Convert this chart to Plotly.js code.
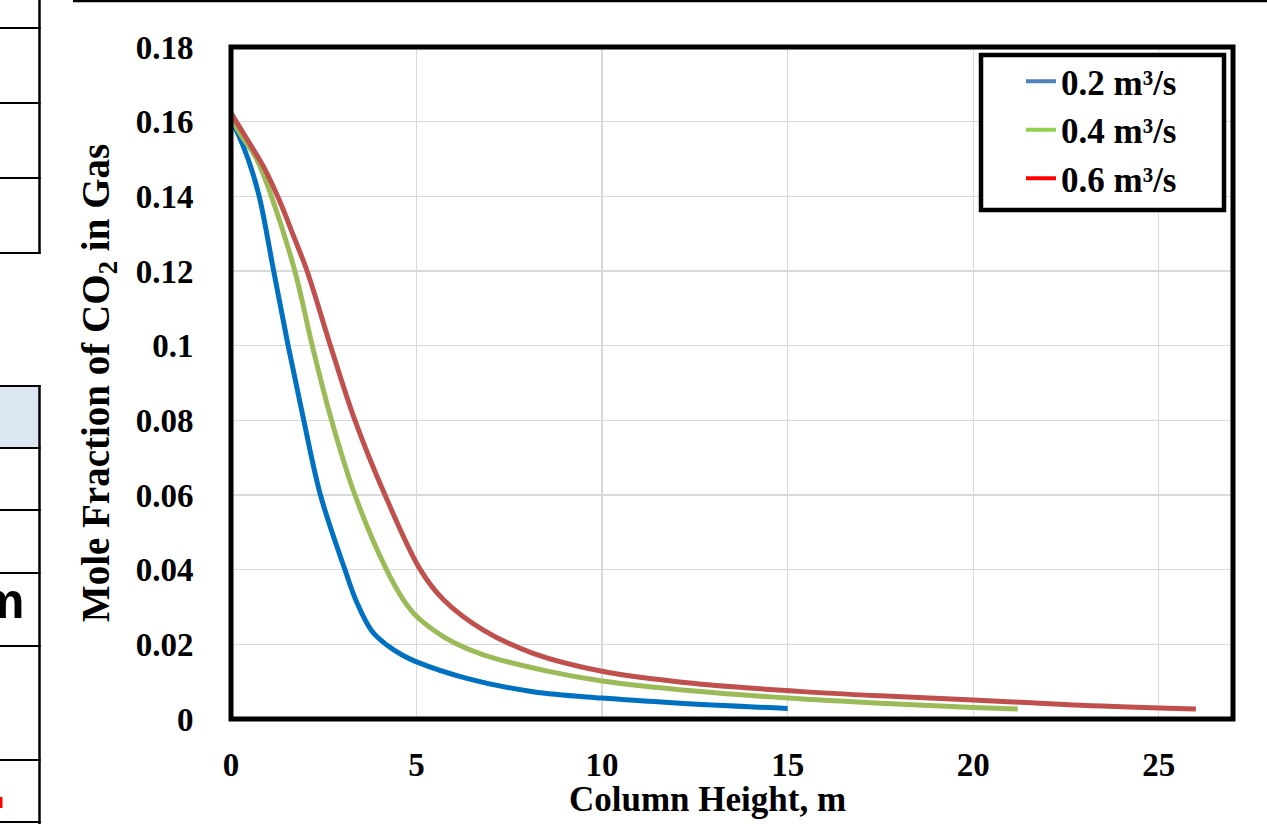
<!DOCTYPE html>
<html>
<head>
<meta charset="utf-8">
<script src="https://cdn.plot.ly/plotly-3.0.1.min.js"></script>
<style>
  html, body { margin: 0; padding: 0; background: #fff; }
  #chart { width: 1267px; height: 824px; }
</style>
</head>
<body>
<div id="chart"></div>
<script>
// ---- data ----
const seriesNames = ['0.2 m³/s', '0.4 m³/s', '0.6 m³/s'];

const height02 = [0, 0.2, 0.46, 0.76, 1.15, 1.54, 1.96, 2.41, 3.07, 3.4, 3.8, 4.2, 4.6, 5.0, 6.35, 8.14, 10, 12, 15];
const co2_02   = [0.1605, 0.1565, 0.150, 0.140, 0.120, 0.100, 0.080, 0.060, 0.040, 0.031, 0.0235, 0.0198, 0.0172, 0.0153, 0.0109, 0.0073, 0.0056, 0.0043, 0.0028];

const height04 = [0, 0.3, 0.69, 1.09, 1.72, 2.19, 2.71, 3.34, 4.19, 4.64, 5.0, 5.5, 6.0, 6.8, 8.59, 10, 12.5, 15, 17.5, 20, 21.2];
const co2_04   = [0.161, 0.156, 0.150, 0.140, 0.120, 0.100, 0.080, 0.060, 0.040, 0.032, 0.0275, 0.0235, 0.0205, 0.0172, 0.0127, 0.0102, 0.0075, 0.0056, 0.0042, 0.0031, 0.0027];

const height06 = [0, 0.45, 0.9, 1.3, 1.7, 2.05, 2.68, 3.34, 4.15, 5.1, 5.72, 6.8, 8.14, 10, 12.5, 15.3, 17.5, 20, 22.9, 26.0];
const co2_06   = [0.1623, 0.155, 0.1475, 0.139, 0.129, 0.120, 0.100, 0.080, 0.060, 0.040, 0.032, 0.0238, 0.0176, 0.0128, 0.0095, 0.0074, 0.0062, 0.0051, 0.0037, 0.0027];

const xTickVals = [0, 5, 10, 15, 20, 25];
const yTickVals = [0, 0.02, 0.04, 0.06, 0.08, 0.1, 0.12, 0.14, 0.16, 0.18];
const yTickText = ['0', '0.02', '0.04', '0.06', '0.08', '0.1', '0.12', '0.14', '0.16', '0.18'];
const xTitle = 'Column Height, m';
const yTitle = 'Mole Fraction of CO<sub>2</sub> in Gas';

// ---- styles ----
const lineColors   = ['#0070C0', '#9BBB59', '#C0504D'];
const legendColors = ['#4F81BD', '#92D050', '#FF0000'];
const serif = '"Liberation Serif", "Times New Roman", Times, serif';

// ---- layout geometry (pixels) ----
const W = 1267, H = 824;
const M = { l: 231, r: 34, t: 47, b: 105 };
const PW = W - M.l - M.r, PH = H - M.t - M.b;
const px = v => (v - M.l) / PW;          // pixel x -> paper x
const py = v => (H - M.b - v) / PH;      // pixel y -> paper y

const xs = [height02, height04, height06];
const ys = [co2_02, co2_04, co2_06];

const traces = [];
for (let i = 0; i < 3; i++) {
  traces.push({
    type: 'scatter', mode: 'lines',
    x: xs[i], y: ys[i], name: seriesNames[i],
    line: { color: lineColors[i], width: 5, shape: 'spline', smoothing: 1 },
    showlegend: false, hoverinfo: 'x+y+name'
  });
}
for (let i = 0; i < 3; i++) {
  traces.push({
    type: 'scatter', mode: 'lines',
    x: [null], y: [null], name: seriesNames[i],
    legendgroup: 'g' + i,
    line: { color: legendColors[i], width: 4 },
    showlegend: true, hoverinfo: 'skip'
  });
}

const shapes = [
  // legend box
  { type: 'rect', xref: 'paper', yref: 'paper', layer: 'above',
    x0: px(981), x1: px(1224), y0: py(210), y1: py(55),
    fillcolor: '#ffffff', line: { color: '#000', width: 4.5 } },
  // plot frame
  { type: 'rect', xref: 'paper', yref: 'paper', layer: 'above',
    x0: 0, x1: 1, y0: 0, y1: 1, line: { color: '#000', width: 5 } },
  // slide artefacts: top rule
  { type: 'line', xref: 'paper', yref: 'paper', x0: px(73), x1: px(1267), y0: py(1), y1: py(1),
    line: { color: '#000', width: 2.5 } },
  // left table (upper)
  { type: 'line', xref: 'paper', yref: 'paper', x0: px(39.5), x1: px(39.5), y0: py(0), y1: py(254),
    line: { color: '#000', width: 2.5 } },
  // left table (lower) with shaded header
  { type: 'rect', xref: 'paper', yref: 'paper', x0: px(-5), x1: px(39.5), y0: py(448), y1: py(386),
    fillcolor: '#DCE6F2', line: { width: 0 } },
  { type: 'line', xref: 'paper', yref: 'paper', x0: px(39.5), x1: px(39.5), y0: py(385), y1: py(824),
    line: { color: '#000', width: 2.5 } },
  { type: 'rect', xref: 'paper', yref: 'paper', x0: px(0), x1: px(2.5), y0: py(808), y1: py(797),
    fillcolor: '#FF0000', line: { width: 0 } }
];
[28, 103, 178, 253, 386, 448, 510, 573, 646, 760, 822].forEach(v => {
  shapes.push({ type: 'line', xref: 'paper', yref: 'paper', x0: px(-5), x1: px(40.5), y0: py(v), y1: py(v),
    line: { color: '#000', width: 2 } });
});

const layout = {
  width: W, height: H,
  margin: M,
  paper_bgcolor: '#ffffff', plot_bgcolor: '#ffffff',
  font: { family: serif, color: '#000', size: 33, weight: 'bold' },
  showlegend: true,
  legend: {
    x: px(1021), xanchor: 'left', y: py(52), yanchor: 'top',
    bgcolor: 'rgba(0,0,0,0)', borderwidth: 0,
    font: { family: serif, size: 35, color: '#000', weight: 'bold' },
    tracegroupgap: 7, traceorder: 'normal'
  },
  xaxis: {
    range: [0, 27], tickvals: xTickVals, ticktext: xTickVals.map(String),
    showgrid: true, gridcolor: '#D9D9D9', gridwidth: 1.3,
    zeroline: false, showline: false,
    ticks: 'outside', ticklen: 16, tickcolor: 'rgba(0,0,0,0)',
    tickfont: { family: serif, size: 33, color: '#000', weight: 'bold' },
    automargin: false, fixedrange: true
  },
  yaxis: {
    range: [0, 0.18], tickvals: yTickVals, ticktext: yTickText,
    showgrid: true, gridcolor: '#D9D9D9', gridwidth: 1.3,
    zeroline: false, showline: false,
    ticks: 'outside', ticklen: 30, tickcolor: 'rgba(0,0,0,0)',
    tickfont: { family: serif, size: 33, color: '#000', weight: 'bold' },
    title: { text: yTitle, standoff: 14,
             font: { family: serif, size: 39, color: '#000', weight: 'bold' } },
    automargin: false, fixedrange: true
  },
  shapes: shapes,
  annotations: [
    { xref: 'paper', yref: 'paper', x: px(707), y: py(799), xanchor: 'center', yanchor: 'middle',
      text: xTitle, showarrow: false,
      font: { family: serif, size: 35, color: '#000', weight: 'bold' } },
    { xref: 'paper', yref: 'paper', x: px(26), y: py(601), xanchor: 'right', yanchor: 'middle',
      text: 'm', showarrow: false,
      font: { family: '"Liberation Sans", Arial, sans-serif', size: 50, color: '#000', weight: 'bold' } }
  ]
};

Plotly.newPlot('chart', traces, layout, { displayModeBar: false, staticPlot: true });
</script>
</body>
</html>
